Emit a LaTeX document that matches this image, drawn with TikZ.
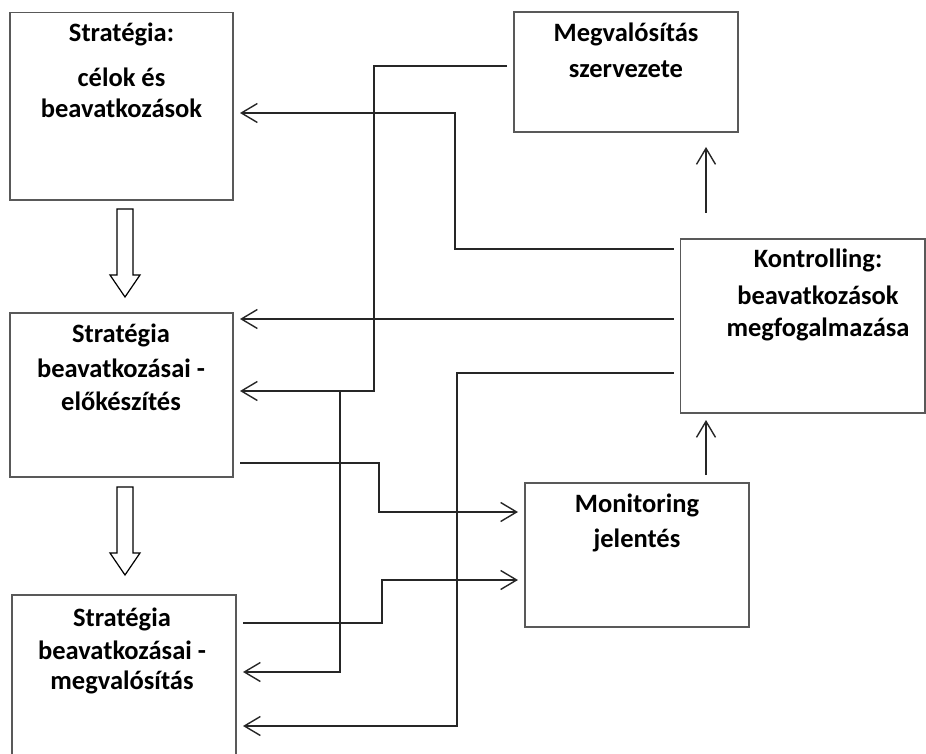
\documentclass[tikz,border=0pt]{standalone}
\usepackage{fontspec}
\setmainfont{Carlito}
\usetikzlibrary{arrows.meta}
\tikzset{
  box/.style={draw=black!65, line width=1.2pt, rectangle, inner sep=0pt, outer sep=7pt},
  txt/.style={anchor=north, align=center, inner sep=0pt, font=\fontsize{26.5}{33}\selectfont\bfseries},
  conn/.style={draw=black!85, line width=1.4pt},
  arr/.style={conn, -{Straight Barb[length=16pt,width=19pt]}},
  blockarrow/.style={draw=black, line width=1.2pt, fill=white, line join=miter},
}
\begin{document}
\begin{tikzpicture}[x=1pt,y=-1pt]
\useasboundingbox (0,0) rectangle (926,754);
\clip (0,0) rectangle (926,754);
% boxes
\node[box, minimum width=223pt, minimum height=187.5pt] (A) at (121.5,106.25) {};
\node[box, minimum width=224pt, minimum height=120pt] (B) at (626,72) {};
\node[box, minimum width=244.3pt, minimum height=174pt] (C) at (802.85,326) {};
\node[box, minimum width=223pt, minimum height=164pt] (D) at (121.5,395) {};
\node[box, minimum width=224pt, minimum height=144pt] (E) at (637,555) {};
\node[box, minimum width=224pt, minimum height=175pt] (F) at (124,682.5) {};
% texts
\node[txt] (tA) at (121.5,23) {Stratégia:\\[12pt] célok és\\[-2pt] beavatkozások};
\node[txt] (tB) at (626,23) {Megvalósítás\\[3pt] szervezete};
\node[txt] (tC) at (818,249) {Kontrolling:\\[4pt] beavatkozások\\[-1pt] megfogalmazása};
\node[txt] (tD) at (121,324) {Stratégia\\[2pt] beavatkozásai -\\ előkészítés};
\node[txt] (tE) at (637,494) {Monitoring\\[2pt] jelentés};
\node[txt] (tF) at (122,608) {Stratégia\\ beavatkozásai -\\[-3pt] megvalósítás};
% block arrows
\draw[blockarrow] (117,209) -- (133,209) -- (133,275) -- (140,275) -- (125,297) -- (110,275) -- (117,275) -- cycle;
\draw[blockarrow] (117,487) -- (133,487) -- (133,553) -- (140,553) -- (125,575) -- (110,553) -- (117,553) -- cycle;
% connectors
\draw[arr] (C.west |- 0,249) -| (455,113) -- (A.east |- 0,113);
\draw[arr] (C.west |- 0,319) -- (D.east |- 0,319);
\draw[arr] (C.west |- 0,373) -| (457,726) -- (F.east |- 0,726);
\draw[arr] (B.west |- 0,66) -| (374,391) -- (D.east |- 0,391);
\coordinate (j) at (340,391);
\draw[arr] (j) |- (F.east |- 0,672);
\draw[arr] (D.east |- 0,463) -| (379,512) -- (E.west |- 0,512);
\draw[arr] (F.east |- 0,623) -| (382,580) -- (E.west |- 0,580);
\draw[arr, shorten <=19pt, shorten >=8pt] (C.north -| 706,0) -- (B.south -| 706,0);
\draw[arr, shorten <=1pt] (E.north -| 706,0) -- (C.south -| 706,0);
\end{tikzpicture}
\end{document}
